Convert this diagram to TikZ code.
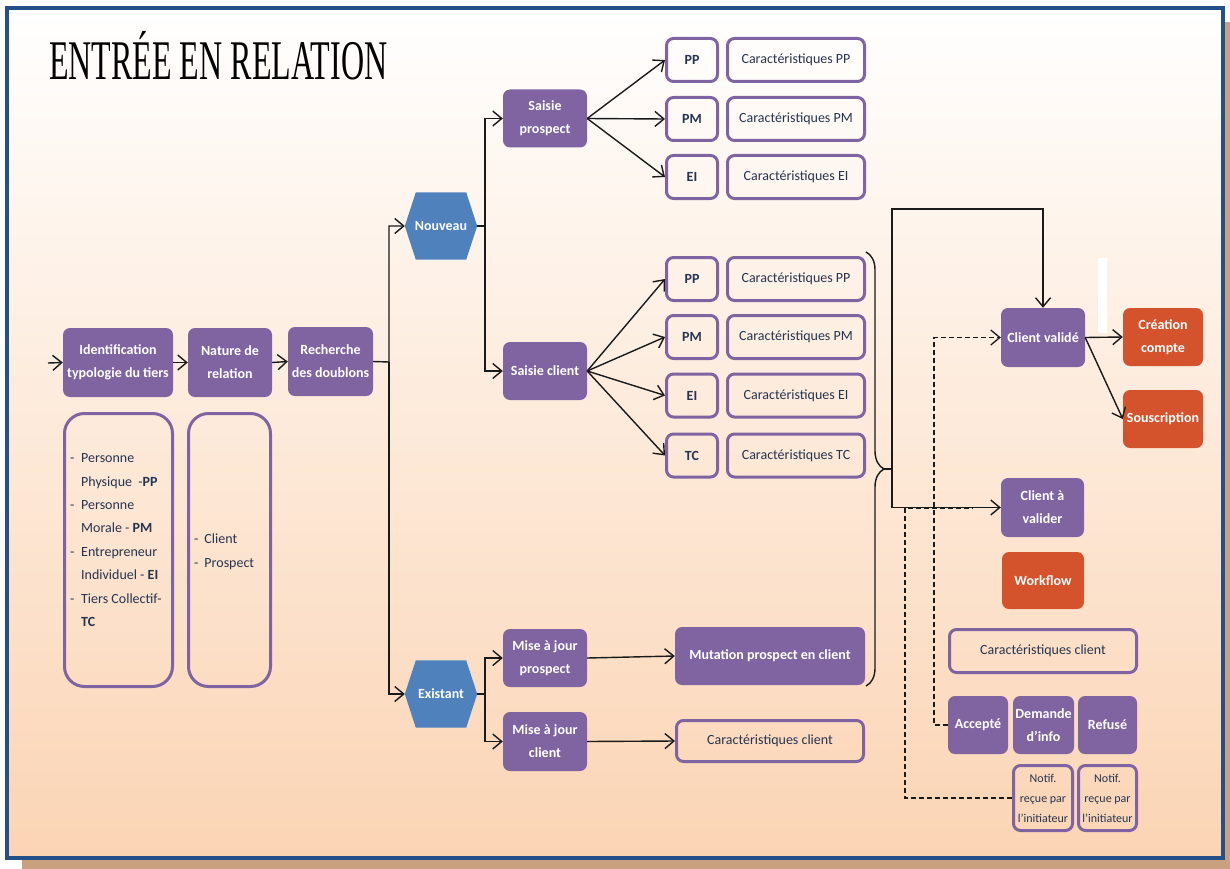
\documentclass[tikz,border=0pt]{standalone}
\usepackage{fontspec}
\setmainfont{Carlito}
\newfontfamily\titlefont{Liberation Serif}
\usetikzlibrary{arrows.meta,decorations.pathreplacing}
\definecolor{purp}{HTML}{8064A2}
\definecolor{orng}{HTML}{D4532C}
\definecolor{hexb}{HTML}{4F81BD}
\definecolor{navy}{HTML}{26344F}
\definecolor{frameb}{HTML}{24508A}
\definecolor{shadowc}{HTML}{C9A17F}
\definecolor{peach}{HTML}{FBD4B4}
\definecolor{linec}{HTML}{1A1A1A}
\pgfdeclarelayer{back}
\pgfsetlayers{back,main}
\begin{document}
\begin{tikzpicture}[x=1pt, y=-1pt,
  every node/.style={inner sep=0pt},
  sz/.style 2 args={minimum width=#1pt, minimum height=#2pt},
  pbox/.style={rectangle, rounded corners=7pt, fill=purp, text=white,
    font=\bfseries\fontsize{14}{23}\selectfont, align=center},
  rbox/.style={pbox, fill=orng},
  obox/.style={rectangle, rounded corners=7pt, draw=purp, line width=3pt,
    text=navy, font=\fontsize{14}{17}\selectfont, align=center},
  obold/.style={obox, font=\bfseries\fontsize{14}{17}\selectfont},
  nbox/.style={obox, font=\fontsize{12}{20}\selectfont},
  hexa/.style={rectangle, sz={72}{67}, text=white,
    font=\bfseries\fontsize{14}{17}\selectfont},
  conn/.style={line width=1.4pt, draw=linec},
  arr/.style={conn, -{Straight Barb[length=9pt,width=15pt,line width=1.4pt]}},
  dashline/.style={conn, line width=1.3pt, dash pattern=on 5pt off 3pt},
  darr/.style={dashline, -{Straight Barb[length=9pt,width=15pt,line width=1.3pt]}},
  listtext/.style={text=navy, align=left}]

\useasboundingbox (0,0) rectangle (1230,869);

% page frame with drop shadow and gradient
\begin{pgfonlayer}{back}
  \fill[shadowc] (22,22) rectangle (1230,869);
  \shade[top color=white, bottom color=peach] (7,8) rectangle (1223,858);
  \draw[frameb, line width=4pt] (7,8) rectangle (1223,858);
\end{pgfonlayer}

% title
\node[anchor=base west] (title) at (49,80)
  {\scalebox{0.572}[1]{\titlefont\fontsize{56}{60}\selectfont ENTRÉE EN RELATION}};

% first stage
\node[pbox, sz={110}{69}] (ident) at (118,362.5) {Identification\\typologie du tiers};
\node[pbox, sz={84}{69}] (nat) at (230,362.5) {Nature de\\relation};
\node[pbox, sz={85}{69}] (rech) at (330.5,361.5) {Recherche\\des doublons};

\node[obox, rounded corners=20pt, sz={108}{273}] (list1) at (118.5,550) {};
\node[obox, rounded corners=20pt, sz={82}{273}] (list2) at (229.5,550) {};
\node[listtext, anchor=west] (list1txt) at (70,540)
  {\fontsize{14}{23.4}\selectfont
   \begin{tabular}{@{}l@{\hspace{6.7pt}}l@{}}
   - & Personne\\
     & Physique\ \ -\textbf{PP}\\
   - & Personne\\
     & Morale - \textbf{PM}\\
   - & Entrepreneur\\
     & Individuel - \textbf{EI}\\
   - & Tiers Collectif-\\
     & \textbf{TC}
   \end{tabular}};
\node[listtext, anchor=west] (list2txt) at (194,551)
  {\fontsize{14}{24}\selectfont
   \begin{tabular}{@{}l@{\hspace{6pt}}l@{}}
   - & Client\\
   - & Prospect
   \end{tabular}};

\coordinate (in) at (48,363);
\draw[arr] (in) -- (ident.west);
\draw[arr] (ident.east) -- (nat.west);
\draw[arr] (nat.east) -- (rech.west);

% new / existing branches
\node[hexa] (nouv) at (441,226) {Nouveau};
\node[hexa] (exist) at (441,694) {Existant};
\begin{pgfonlayer}{back}
  \foreach \h in {nouv,exist}{
    \fill[hexb] (\h.west) -- ([xshift=11pt]\h.north west) -- ([xshift=-11pt]\h.north east)
      -- (\h.east) -- ([xshift=-11pt]\h.south east) -- ([xshift=11pt]\h.south west) -- cycle;
  }
\end{pgfonlayer}

\coordinate (j1) at (389,362);
\draw[arr] (rech.east) -- (j1) |- (nouv.west);
\draw[arr] (j1) |- (exist.west);

\node[pbox, sz={84}{58}] (sprosp) at (545,118.5) {Saisie\\prospect};
\node[pbox, sz={84}{58}] (sclient) at (545,371) {Saisie client};
\coordinate (j2) at (485,226);
\draw[arr] (nouv.east) -- (j2) |- (sprosp.west);
\draw[arr] (j2) |- (sclient.west);

\node[pbox, sz={84}{58}] (mjp) at (545,658) {Mise à jour\\prospect};
\node[pbox, sz={84}{59}] (mjc) at (545,741.5) {Mise à jour\\client};
\coordinate (j5) at (485,694);
\draw[arr] (exist.east) -- (j5) |- (mjp.west);
\draw[arr] (j5) |- (mjc.west);

% prospect characteristics
\node[obold, sz={51}{43}] (pp1) at (692,60) {PP};
\node[obold, sz={51}{43}] (pm1) at (692,119) {PM};
\node[obold, sz={51}{43}] (ei1) at (692,177) {EI};
\node[obox, sz={137}{43}] (cpp1) at (796,60) {Caractéristiques PP};
\node[obox, sz={137}{43}] (cpm1) at (796,119) {Caractéristiques PM};
\node[obox, sz={137}{43}] (cei1) at (796,177) {Caractéristiques EI};
\foreach \t in {pp1,pm1,ei1}{\draw[arr] (sprosp.east) -- (\t.west);}

% client characteristics
\node[obold, sz={51}{43}] (pp2) at (692,279) {PP};
\node[obold, sz={51}{43}] (pm2) at (692,337) {PM};
\node[obold, sz={51}{43}] (ei2) at (692,395.5) {EI};
\node[obold, sz={51}{43}] (tc2) at (692,455.5) {TC};
\node[obox, sz={137}{43}] (cpp2) at (796,279) {Caractéristiques PP};
\node[obox, sz={137}{43}] (cpm2) at (796,337) {Caractéristiques PM};
\node[obox, sz={137}{43}] (cei2) at (796,395.5) {Caractéristiques EI};
\node[obox, sz={137}{43}] (ctc2) at (796,455.5) {Caractéristiques TC};
\foreach \t in {pp2,pm2,ei2,tc2}{\draw[arr] (sclient.east) -- (\t.west);}

% updates of existing third parties
\node[pbox, sz={190}{58}] (mut) at (770,656) {Mutation prospect en client};
\node[obox, sz={187}{41}] (cc2) at (770,741) {Caractéristiques client};
\draw[arr] (mjp.east) -- (mut.west);
\draw[arr] (mjc.east) -- (cc2.west);

% grouping brace
\draw[conn, decorate, decoration={brace, amplitude=18pt, aspect=0.5}] (866,252) -- (866,686);
\coordinate (btip) at (884,469);
\coordinate (j3) at (892,469);

% validation outcome
\node[pbox, sz={84}{59}] (cval) at (1043,337.5) {Client validé};
\node[rbox, sz={80}{58}] (crea) at (1163,337) {Création\\compte};
\node[rbox, sz={80}{58}] (sous) at (1163,419) {Souscription};
\fill[white] (1098,258) rectangle (1107,333);
\draw[arr] (btip) -- (j3) |- (1043,209) -- (cval.north);
\draw[arr] (cval.east) -- (crea.west);
\draw[arr] (cval.east) -- (sous.west);

% workflow
\node[pbox, sz={83}{59}] (cav) at (1042.5,507.5) {Client à\\valider};
\node[rbox, sz={82}{57}] (wf) at (1043,580.5) {Workflow};
\node[obox, sz={187}{43}] (cc3) at (1043,651) {Caractéristiques client};
\node[pbox, sz={60}{58}] (acc) at (978,725) {Accepté};
\node[pbox, sz={61}{58}] (dem) at (1043.5,725) {Demande\\d’info};
\node[pbox, sz={59}{58}] (ref) at (1107.5,725) {Refusé};
\node[nbox, sz={59}{65}] (not1) at (1043,798) {Notif.\\reçue par\\l’initiateur};
\node[nbox, sz={58}{65}] (not2) at (1107.5,798) {Notif.\\reçue par\\l’initiateur};
\draw[arr] (j3) |- (cav.west);

\draw[darr] (acc.west) -- (934,725) |- (cval.west);
\coordinate (dend) at (973,508);
\draw[dashline] (not1.west) -- (905,798) |- (dend);
\end{tikzpicture}
\end{document}
